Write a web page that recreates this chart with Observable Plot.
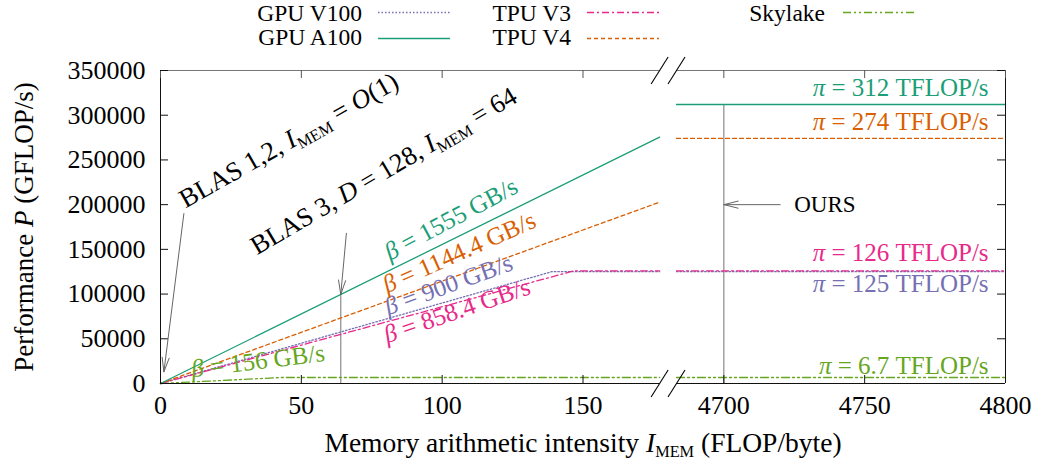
<!DOCTYPE html>
<html><head><meta charset="utf-8">
<script src="https://cdn.jsdelivr.net/npm/d3@7"></script>
<script src="https://cdn.jsdelivr.net/npm/@observablehq/plot@0.6"></script>
<style>
body{margin:0;background:#fff;font-family:"Liberation Serif",serif;}
#legend,#chart{display:block;}
</style></head><body>
<div id="legend"></div><div id="chart"></div>
<script>
// ---- data ----
const devices   = ["GPU V100", "GPU A100", "TPU V3", "TPU V4", "Skylake"];
const bandwidth = [900, 1555, 858.4, 1144.4, 156];          // GB/s
const peak      = [125000, 312000, 126000, 274000, 6700];   // GFLOP/s
const colors    = ["#7570b3", "#1b9e77", "#e7298a", "#d95f02", "#66a61e"];
const dashes    = ["1.5,2", null, "7,3,2,3", "4,3", "8,3,2,3,2,3"];
const drawOrder = [4, 0, 2, 3, 1];

const bwLabels   = ["β = 900 GB/s", "β = 1555 GB/s", "β = 858.4 GB/s", "β = 1144.4 GB/s", "β = 156 GB/s"];
const bwLabelI   = [80.9, 81.5, 80.5, 80.5, 11.3];
const bwLabelP   = [76300, 137400, 45000, 100900, 7000];
const bwLabelRot = [-20, -28, -19, -24, -7];

const piLabels   = ["π = 125 TFLOP/s", "π = 312 TFLOP/s", "π = 126 TFLOP/s", "π = 274 TFLOP/s", "π = 6.7 TFLOP/s"];
const piLabelP   = [102000, 322000, 136600, 283000, 10400];
const piLabelI   = 4794;

// broken x axis
const leftEnd = 177.2, rightStart = 4683.2, rightEnd = 4800, xOffset = 4500;
const xTickLabels = [0, 50, 100, 150, 4700, 4750, 4800];
const yTicks = [0, 50000, 100000, 150000, 200000, 250000, 300000, 350000];
const yMax = 350000;

// reference lines and arrows
const refLineI   = [64, 4700];
const refLineTop = [1555 * 64, 312000];
const arrowFrom  = [[8.3, 190000], [66, 168000], [4720, 200000]];
const arrowTo    = [[1.2, 13000], [64, 99520], [4700, 200000]];
const noteText   = ["BLAS 1,2, I_MEM = O(1)", "BLAS 3, D = 128, I_MEM = 64", "OURS"];
const noteI      = [8.9, 34.3, 4725];
const noteP      = [195700, 143300, 200000];
const noteRot    = [-29.5, -30.5, 0];

const pos = I => (I > 1000 ? I - xOffset : I);
const xTickPos = xTickLabels.map(pos);

function roofline(i) {
  const knee = peak[i] / bandwidth[i];
  const pts = [{I: 0, P: 0, seg: 0}];
  if (knee < leftEnd) pts.push({I: knee, P: peak[i], seg: 0});
  pts.push({I: leftEnd, P: Math.min(bandwidth[i] * leftEnd, peak[i]), seg: 0});
  pts.push({I: rightStart, P: peak[i], seg: 1}, {I: rightEnd, P: peak[i], seg: 1});
  return pts;
}

// ---- legend (svg above chart) ----
const legCol = [0, 0, 1, 1, 2], legRow = [0, 1, 0, 1, 0];
const legTextRight = [362, 571, 825], legSample = [378, 587, 843], legBase = [20.5, 44.5], legLineY = [12.5, 38.5];
const leg = d3.select("#legend").append("svg").attr("width", 1037).attr("height", 55)
  .style("display", "block").attr("font-family", "Liberation Serif").attr("font-size", 23.5);
devices.forEach((d, i) => {
  leg.append("text").attr("x", legTextRight[legCol[i]]).attr("y", legBase[legRow[i]])
    .attr("text-anchor", "end").text(d);
  leg.append("line").attr("x1", legSample[legCol[i]]).attr("x2", legSample[legCol[i]] + 72)
    .attr("y1", legLineY[legRow[i]]).attr("y2", legLineY[legRow[i]])
    .attr("stroke", colors[i]).attr("stroke-width", 1.3).attr("stroke-dasharray", dashes[i]);
});

// ---- chart ----
const slash = {draw(ctx) { ctx.moveTo(-8.5, 13.5); ctx.lineTo(8.5, -13.5); }};
const frameSegs = [{a: 0, b: leftEnd}, {a: rightStart, b: rightEnd}];
const breakDots = [{I: leftEnd, P: 0}, {I: rightStart, P: 0}, {I: leftEnd, P: yMax}, {I: rightStart, P: yMax}];

const marks = [
  Plot.ruleX(refLineI.map((I, k) => ({I, top: refLineTop[k]})), {x: d => pos(d.I), y1: 0, y2: "top", stroke: "#8a8a8a", strokeWidth: 1.2}),
  ...drawOrder.map(i => Plot.line(roofline(i), {x: d => pos(d.I), y: "P", z: "seg", stroke: colors[i], strokeWidth: 1.3, strokeDasharray: dashes[i]})),
  // frame
  Plot.ruleX([0], {x: d => d, y1: 0, y2: yMax, stroke: "#111"}),
  Plot.ruleX([rightEnd], {x: d => pos(d), y1: 0, y2: yMax, stroke: "#111"}),
  Plot.ruleY(frameSegs, {x1: d => pos(d.a), x2: d => pos(d.b), y: () => 0, stroke: "#111"}),
  Plot.ruleY(frameSegs, {x1: d => pos(d.a), x2: d => pos(d.b), y: () => yMax, stroke: "#777"}),
  // inward ticks
  Plot.ruleX(xTickPos, {x: d => d, y1: 0, y2: 0, insetTop: -8, stroke: "#111"}),
  Plot.ruleX(xTickPos, {x: d => d, y1: yMax, y2: yMax, insetTop: 8, stroke: "#555"}),
  Plot.ruleY(yTicks, {y: d => d, x1: 0, x2: 0, insetLeft: 8, stroke: "#111"}),
  Plot.ruleY(yTicks, {y: d => d, x1: pos(rightEnd), x2: pos(rightEnd), insetLeft: -8, stroke: "#111"}),
  // axis break marks
  Plot.dot(breakDots, {x: d => pos(d.I), y: "P", symbol: slash, stroke: "#000", fill: "none", r: 5, strokeWidth: 1.1}),
  // arrows
  Plot.arrow(arrowFrom.map((f, k) => ({f, t: arrowTo[k]})), {
    x1: d => pos(d.f[0]), y1: d => d.f[1], x2: d => pos(d.t[0]), y2: d => d.t[1],
    stroke: "#666", strokeWidth: 1, headAngle: 28, headLength: 22
  }),
  // labels
  ...devices.map((d, i) => Plot.text([i], {x: () => bwLabelI[i], y: () => bwLabelP[i], text: () => bwLabels[i],
    rotate: bwLabelRot[i], textAnchor: "start", lineAnchor: "bottom", fill: colors[i], fontSize: 25})),
  ...devices.map((d, i) => Plot.text([i], {x: () => pos(piLabelI), y: () => piLabelP[i], text: () => piLabels[i],
    textAnchor: "end", lineAnchor: "bottom", fill: colors[i], fontSize: 25})),
  ...noteText.map((t, k) => Plot.text([k], {x: () => pos(noteI[k]), y: () => noteP[k], text: () => t,
    rotate: noteRot[k], textAnchor: "start", lineAnchor: k === 2 ? "middle" : "bottom", fill: "#000", fontSize: k === 2 ? 23 : 26.5})),
  // axes
  Plot.axisX(xTickPos, {tickSize: 0, tickPadding: 12, fontSize: 26, tickFormat: d => String(xTickLabels[xTickPos.indexOf(d)]), label: null}),
  Plot.axisY(yTicks, {tickSize: 0, tickPadding: 15, fontSize: 26, tickFormat: d3.format("d"), label: null}),
  Plot.text(["Memory arithmetic intensity I_MEM (FLOP/byte)"], {frameAnchor: "bottom", text: d => d, dy: 68, lineAnchor: "bottom", fontSize: 27.5, fill: "#000"}),
  Plot.text(["Performance P (GFLOP/s)"], {frameAnchor: "left", text: d => d, rotate: -90, dx: -128, lineAnchor: "bottom", textAnchor: "middle", fontSize: 27, fill: "#000"})
];

const chart = Plot.plot({
  width: 1037, height: 410,
  marginLeft: 160, marginRight: 32, marginTop: 15, marginBottom: 82,
  x: {domain: [0, 300]},
  y: {domain: [0, yMax]},
  style: {fontFamily: "Liberation Serif", fontSize: "24px", background: "#fff", color: "#000", overflow: "visible"},
  marks
});

// rich text (italics / subscripts)
const rich = {
  "BLAS 1,2, I_MEM = O(1)": [["BLAS 1,2, "], ["I", "i"], ["MEM", "sub"], [" = "], ["O", "i"], ["(1)"]],
  "BLAS 3, D = 128, I_MEM = 64": [["BLAS 3, "], ["D", "i"], [" = 128, "], ["I", "i"], ["MEM", "sub"], [" = 64"]],
  "Memory arithmetic intensity I_MEM (FLOP/byte)": [["Memory arithmetic intensity "], ["I", "i"], ["MEM", "sub"], [" (FLOP/byte)"]],
  "Performance P (GFLOP/s)": [["Performance "], ["P", "i"], [" (GFLOP/s)"]]
};
chart.querySelectorAll("text").forEach(t => {
  const s = t.textContent;
  let parts = rich[s];
  if (!parts && (s.startsWith("β") || s.startsWith("π"))) parts = [[s[0], "i"], [s.slice(1)]];
  if (!parts) return;
  const fs = parseFloat(getComputedStyle(t).fontSize) || 24;
  const sh = 0.22 * fs;
  t.textContent = "";
  let shifted = false;
  parts.forEach(([str, st]) => {
    const ts = document.createElementNS("http://www.w3.org/2000/svg", "tspan");
    ts.textContent = str;
    if (st === "i") ts.setAttribute("font-style", "italic");
    if (st === "sub") { ts.setAttribute("font-size", 0.68 * fs); ts.setAttribute("dy", sh); shifted = true; }
    else if (shifted) { ts.setAttribute("dy", -sh); shifted = false; }
    t.appendChild(ts);
  });
});
document.getElementById("chart").appendChild(chart);
</script>
</body></html>
